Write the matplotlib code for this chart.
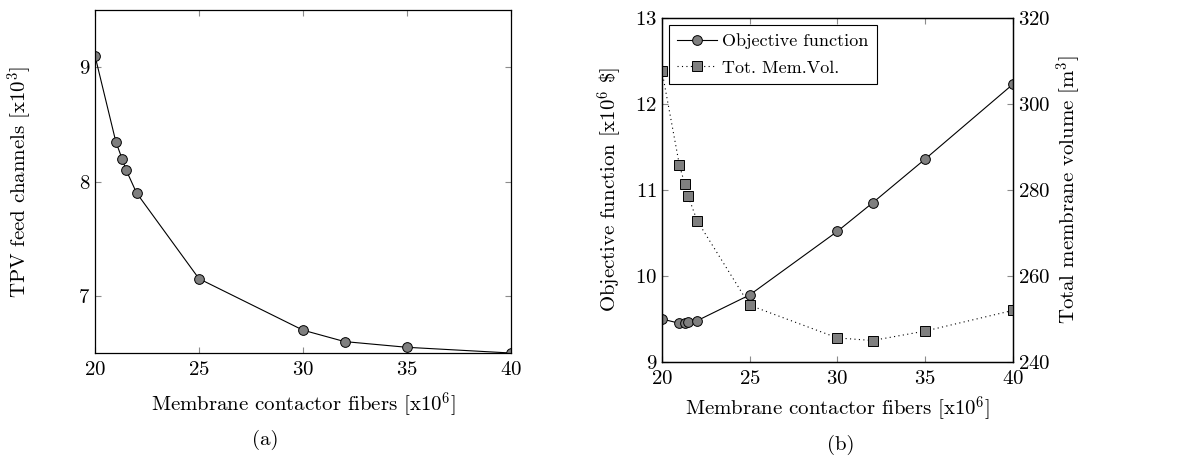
import matplotlib
matplotlib.use("Agg")
import matplotlib.pyplot as plt

plt.rcParams['font.family'] = 'serif'
plt.rcParams['font.serif'] = ['cmr10']
plt.rcParams['mathtext.fontset'] = 'cm'
plt.rcParams['axes.formatter.use_mathtext'] = True
plt.rcParams['font.size'] = 15

# data
fibers = [20, 21, 21.3, 21.5, 22, 25, 30, 32, 35, 40]
tpv_channels = [9.1, 8.35, 8.2, 8.1, 7.9, 7.15, 6.7, 6.6, 6.55, 6.5]
objective = [9.5, 9.45, 9.45, 9.46, 9.48, 9.78, 10.52, 10.85, 11.36, 12.23]
mem_volume = [307.7, 285.7, 281.4, 278.5, 272.9, 253.2, 245.6, 245.0, 247.2, 252.0]

xlabel = 'Membrane contactor fibers [x10$^6$]'
gray = '#7f7f7f'
tickgray = '#8c8c8c'

fig = plt.figure(figsize=(11.77, 4.71), dpi=100)


def style(ax):
    ax.tick_params(direction='in', length=4, color=tickgray, width=0.8,
                   labelsize=15)
    ax.tick_params(axis='x', pad=6)
    for s in ax.spines.values():
        s.set_linewidth(0.9)


# (a)
ax1 = fig.add_axes([0.0807, 0.2505, 0.3534, 0.7282])
ax1.plot(fibers, tpv_channels, color='black', lw=0.8, marker='o', ms=7,
         mfc=gray, mec='black', mew=0.7)
ax1.set_xlim(20, 40)
ax1.set_ylim(6.5, 9.5)
ax1.set_xticks([20, 25, 30, 35, 40])
ax1.set_yticks([7, 8, 9])
ax1.tick_params(top=True, right=True)
style(ax1)
ax1.set_xlabel(xlabel, labelpad=8)
ax1.set_ylabel('TPV feed channels [x10$^3$]', labelpad=32)

# (b)
ax2 = fig.add_axes([0.5624, 0.2314, 0.2982, 0.7304])
l1, = ax2.plot(fibers, objective, color='black', lw=0.8, marker='o', ms=7,
               mfc=gray, mec='black', mew=0.7, label='Objective function')
ax2.set_xlim(20, 40)
ax2.set_ylim(9, 13)
ax2.set_xticks([20, 25, 30, 35, 40])
ax2.set_yticks([9, 10, 11, 12, 13])
ax2.tick_params(top=True)
style(ax2)
ax2.set_xlabel(xlabel, labelpad=4)
ax2.set_ylabel('Objective function [x10$^6$ \\$]', labelpad=8)

ax3 = ax2.twinx()
l2, = ax3.plot(fibers, mem_volume, color='black', lw=0.8, ls=(0, (1, 3)),
               marker='s', ms=7, mfc=gray, mec='black', mew=0.7,
               label='Tot. Mem.Vol.')
ax3.set_ylim(240, 320)
ax3.set_yticks([240, 260, 280, 300, 320])
style(ax3)
ax3.set_ylabel('Total membrane volume [m$^3$]', labelpad=3)

leg = ax3.legend(handles=[l1, l2], loc='upper left', fancybox=False,
                 edgecolor='black', framealpha=1, fontsize=13,
                 borderaxespad=0.4, handlelength=2.2, handletextpad=0.3,
                 borderpad=0.45, labelspacing=0.6)
leg.get_frame().set_linewidth(0.8)

fig.text(265 / 1177, 1 - 440 / 471, '(a)', ha='center', va='center', fontsize=15)
fig.text(841 / 1177, 1 - 445 / 471, '(b)', ha='center', va='center', fontsize=15)

fig.savefig('out.png', dpi=100)
